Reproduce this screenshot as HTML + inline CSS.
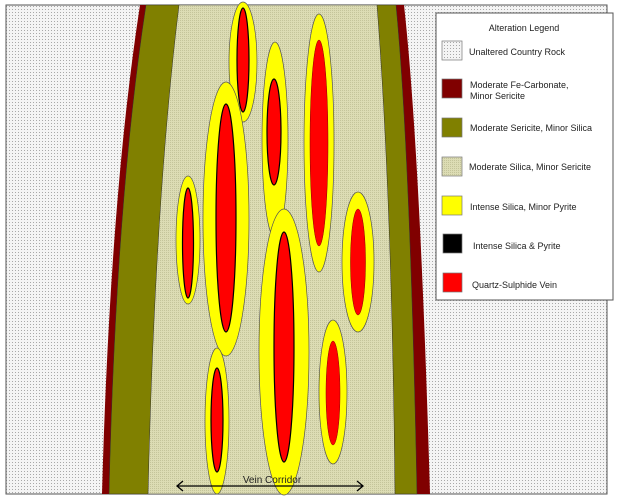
<!DOCTYPE html>
<html><head><meta charset="utf-8"><style>
html,body{margin:0;padding:0;background:#fff;}
svg{display:block;}
text{font-family:"Liberation Sans",Arial,sans-serif;}
</style></head><body>
<svg width="617" height="500" viewBox="0 0 617 500" xmlns="http://www.w3.org/2000/svg">
<defs>
<pattern id="dots" width="3" height="3" patternUnits="userSpaceOnUse">
<rect width="3" height="3" fill="#f4f4f4"/><rect width="1" height="1" fill="#a8a8a8"/>
</pattern>
<pattern id="hatch" width="2" height="2" patternUnits="userSpaceOnUse">
<rect width="2" height="2" fill="#dcdcb4"/><rect width="1" height="1" fill="#c4c49a"/>
</pattern>
</defs>
<rect x="6" y="5" width="601" height="489" fill="url(#dots)" stroke="#555" stroke-width="1"/>
<!-- left bands -->
<path d="M140,5 Q110,200 102,494 L430,494 Q420,150 404,5 Z" fill="#800000"/>
<path d="M146,5 Q116,200 109,494 L417,494 Q410,150 396,5 Z" fill="#808000" stroke="#333" stroke-width="0.5"/>
<path d="M179,5 Q155,200 148,494 L395,494 Q392,200 377,5 Z" fill="url(#hatch)" stroke="#333" stroke-width="0.5"/>
<g stroke="#555" stroke-width="0.7" fill="#ffff00">
<ellipse cx="243" cy="62" rx="14" ry="60"/>
<ellipse cx="226" cy="219" rx="23" ry="137"/>
<ellipse cx="188" cy="240" rx="12" ry="64"/>
<ellipse cx="275" cy="140" rx="13" ry="98"/>
<ellipse cx="319" cy="143" rx="15" ry="129"/>
<ellipse cx="284" cy="352" rx="25" ry="143"/>
<ellipse cx="358" cy="262" rx="16" ry="70"/>
<ellipse cx="333" cy="392" rx="14" ry="72"/>
<ellipse cx="217" cy="421" rx="12" ry="73"/>
</g>
<g fill="#ff0000" stroke="#000" stroke-width="1.2">
<ellipse cx="243" cy="60" rx="6" ry="52"/>
<ellipse cx="226" cy="218" rx="10" ry="114"/>
<ellipse cx="188" cy="243" rx="5.5" ry="55"/>
<ellipse cx="274" cy="132" rx="7" ry="53"/>
</g>
<g fill="#ff0000" stroke="#800" stroke-width="0.5">
<ellipse cx="319" cy="143" rx="9" ry="103"/>
<ellipse cx="358" cy="262" rx="7.5" ry="53"/>
<ellipse cx="333" cy="393" rx="7" ry="52"/>
</g>
<g fill="#ff0000" stroke="#000" stroke-width="1.2">
<ellipse cx="284" cy="347" rx="10" ry="115"/>
<ellipse cx="217" cy="420" rx="6" ry="52"/>
</g>
<!-- arrow -->
<line x1="177" y1="486" x2="363" y2="486" stroke="#000" stroke-width="1.3"/>
<polyline points="183,481 177,486 183,491" fill="none" stroke="#000" stroke-width="1.3"/>
<polyline points="357,481 363,486 357,491" fill="none" stroke="#000" stroke-width="1.3"/>
<text x="272" y="483" font-size="10" text-anchor="middle" fill="#222">Vein Corridor</text>
<!-- legend -->
<rect x="436" y="13" width="177" height="287" fill="#fff" stroke="#555" stroke-width="1"/>
<text x="524" y="31" font-size="9" text-anchor="middle" fill="#222">Alteration Legend</text>
<g stroke="#777" stroke-width="0.7">
<rect x="442" y="41" width="20" height="19" fill="url(#dots)"/>
<rect x="442" y="79" width="20" height="19" fill="#800000"/>
<rect x="442" y="118" width="20" height="19" fill="#808000"/>
<rect x="442" y="157" width="20" height="19" fill="url(#hatch)"/>
<rect x="442" y="196" width="20" height="19" fill="#ffff00"/>
<rect x="443" y="234" width="19" height="19" fill="#000"/>
<rect x="443" y="273" width="19" height="19" fill="#ff0000"/>
</g>
<g font-size="9" fill="#222">
<text x="469" y="55">Unaltered Country Rock</text>
<text x="470" y="88">Moderate Fe-Carbonate,</text>
<text x="470" y="99">Minor Sericite</text>
<text x="470" y="131">Moderate Sericite, Minor Silica</text>
<text x="469" y="170">Moderate Silica, Minor Sericite</text>
<text x="470" y="210">Intense Silica, Minor Pyrite</text>
<text x="473" y="249">Intense Silica &amp; Pyrite</text>
<text x="472" y="288">Quartz-Sulphide Vein</text>
</g>
</svg>
</body></html>
